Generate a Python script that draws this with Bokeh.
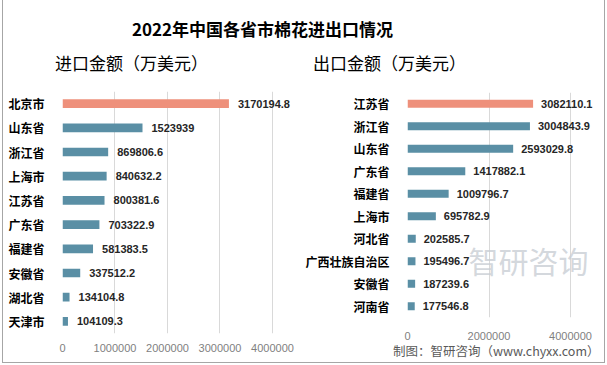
from bokeh.plotting import figure
from bokeh.layouts import column, row
from bokeh.models import Range1d, FactorRange, FixedTicker, BasicTickFormatter, Label, ColumnDataSource
from bokeh.embed import file_html
from bokeh.resources import INLINE

# ---- data ----
title_text = "2022年中国各省市棉花进出口情况"
imp_title = "进口金额（万美元）"
exp_title = "出口金额（万美元）"
source_text = "制图：智研咨询（www.chyxx.com）"
watermark = "智研咨询"

imp_cats = ["北京市", "山东省", "浙江省", "上海市", "江苏省", "广东省", "福建省", "安徽省", "湖北省", "天津市"]
imp_vals = [3170194.8, 1523939, 869806.6, 840632.2, 800381.6, 703322.9, 581383.5, 337512.2, 134104.8, 104109.3]
imp_ticks = [0, 1000000, 2000000, 3000000, 4000000]

exp_cats = ["江苏省", "浙江省", "山东省", "广东省", "福建省", "上海市", "河北省", "广西壮族自治区", "安徽省", "河南省"]
exp_vals = [3082110.1, 3004843.9, 2593029.8, 1417882.1, 1009796.7, 695782.9, 202585.7, 195496.7, 187239.6, 177546.8]
exp_ticks = [0, 2000000, 4000000]

HI = "#EE907B"
BLUE = "#5A8FA5"
CJK = "Noto Sans CJK SC"
NUM = "Liberation Sans"


def blank(width, height):
    f = figure(width=width, height=height, x_range=Range1d(0, width), y_range=Range1d(0, height),
               output_backend="svg", toolbar_location=None, min_border=0)
    f.frame_align = False
    f.axis.visible = False
    f.grid.visible = False
    f.outline_line_color = None
    return f


# ---- header figure ----
top = blank(601, 80)
top.add_layout(Label(x=259, y=52, text=title_text, text_align="center", text_baseline="middle",
                     text_font=CJK, text_font_size="17px", text_font_style="bold", text_color="#000000"))
top.add_layout(Label(x=128, y=18, text=imp_title, text_align="center", text_baseline="middle",
                     text_font=CJK, text_font_size="17px", text_color="#000000"))
top.add_layout(Label(x=386, y=18, text=exp_title, text_align="center", text_baseline="middle",
                     text_font=CJK, text_font_size="17px", text_color="#000000"))


def make_bar(cats, vals, ticks, width, height, xend, mbl, mbr, mbt, mbb, offset, bh, xstand):
    colors = [HI] + [BLUE] * (len(cats) - 1)
    src = ColumnDataSource(dict(cat=cats, val=vals, col=colors, lab=[str(v) for v in vals]))
    p = figure(width=width, height=height, y_range=FactorRange(factors=list(reversed(cats))),
               x_range=Range1d(0, xend), output_backend="svg", toolbar_location=None,
               min_border_left=mbl, min_border_right=mbr, min_border_top=mbt, min_border_bottom=mbb)
    p.frame_align = False
    p.outline_line_color = None
    p.hbar(y="cat", right="val", left=0, height=bh, color="col", source=src, line_color=None)
    p.text(x="val", y="cat", text="lab", source=src, x_offset=offset, text_baseline="middle",
           text_align="left", text_font_size="11px", text_font_style="bold", text_color="#262626",
           text_font={"value": NUM})
    p.ygrid.visible = False
    p.xgrid.grid_line_color = "#D9D9D9"
    p.xgrid.ticker = FixedTicker(ticks=ticks)
    p.xaxis.ticker = FixedTicker(ticks=ticks)
    p.xaxis.formatter = BasicTickFormatter(use_scientific=False)
    p.xaxis.axis_line_color = None
    p.xaxis.major_tick_line_color = None
    p.xaxis.minor_tick_line_color = None
    p.xaxis.major_label_text_font = NUM
    p.xaxis.major_label_text_font_size = "11px"
    p.xaxis.major_label_text_color = "#7F7F7F"
    p.xaxis.major_label_standoff = xstand
    p.yaxis.axis_line_color = None
    p.yaxis.major_tick_line_color = None
    p.yaxis.minor_tick_line_color = None
    p.yaxis.major_label_text_font = CJK
    p.yaxis.major_label_text_font_size = "12px"
    p.yaxis.major_label_text_font_style = "bold"
    p.yaxis.major_label_text_color = "#000000"
    p.yaxis.major_label_standoff = 12
    return p


left = make_bar(imp_cats, imp_vals, imp_ticks, 297, 282, 4381000, 59, 8, 11, 29, 9, 0.36, 4)
right = make_bar(exp_cats, exp_vals, exp_ticks, 304, 262, 4638000, 107, 8, 12, 22, 8, 0.35, 8)

# faint watermark inside the right frame
right.add_layout(Label(x=121, y=58, x_units="screen", y_units="screen", text=watermark,
                       text_align="center", text_baseline="middle", text_font=CJK,
                       text_font_size="30px", text_color="#C9CED4", text_alpha=0.8))

# source note strip
note = blank(304, 20)
note.add_layout(Label(x=299, y=12, text=source_text, text_align="right", text_baseline="middle",
                      text_font=CJK, text_font_size="12.5px", text_color="#595959"))

layout = column(top, row(left, column(right, note)),
                styles={"margin-left": "2px",
                        "border-left": "1px solid #A6A6A6", "border-right": "1px solid #A6A6A6",
                        "border-bottom": "1px solid #A6A6A6"})

open("out.html", "w").write(file_html(layout, INLINE))
